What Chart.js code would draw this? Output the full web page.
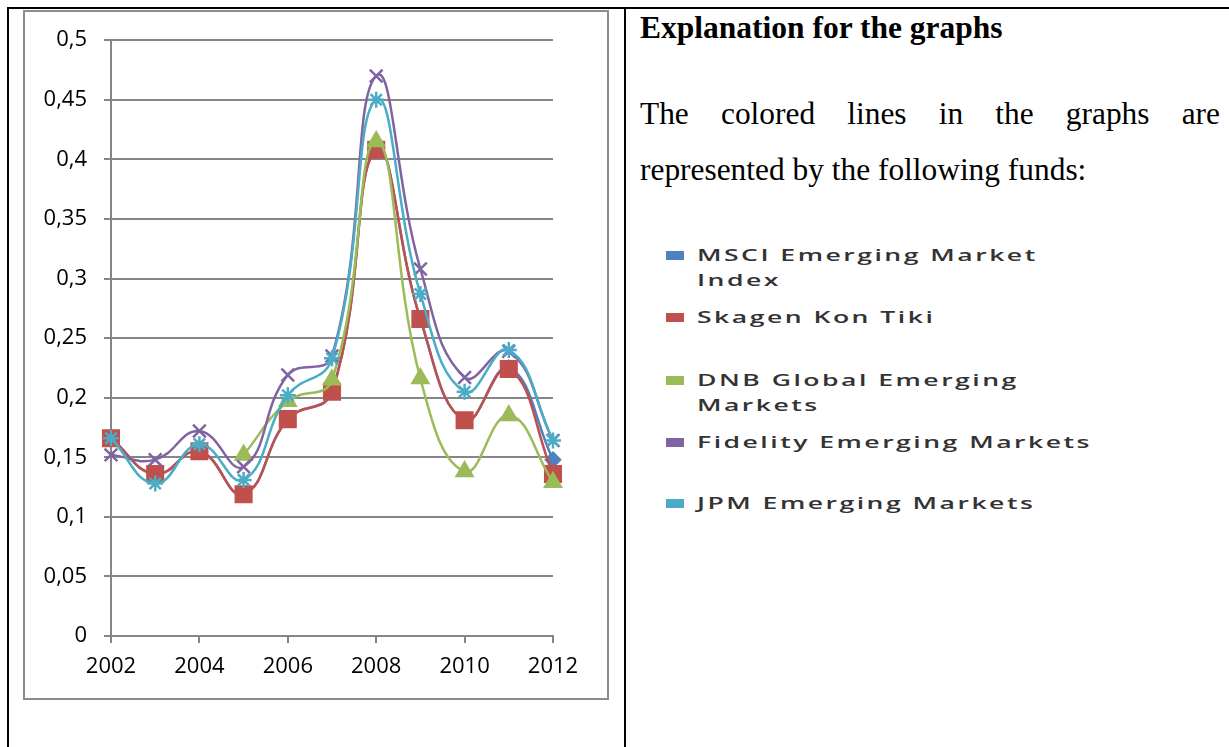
<!DOCTYPE html>
<html>
<head>
<meta charset="utf-8">
<script src="https://cdn.jsdelivr.net/npm/chart.js@4.4.1/dist/chart.umd.min.js"></script>
<style>
    body { margin: 0; background: #fff; width: 1229px; height: 747px; position: relative; overflow: hidden; }
    .linha { position: absolute; background: #000; }
    #moldura { position: absolute; left: 23px; top: 10px; width: 586px; height: 690px; box-sizing: border-box; border: 2px solid #8c8c8c; pointer-events: none; }
    #grafico { position: absolute; left: 23px; top: 10px; }
    .serif { position: absolute; font-family: "Liberation Serif", "Times New Roman", serif; color: #000; }
    #titulo { left: 640px; top: 10px; font-size: 31.5px; font-weight: bold; white-space: nowrap; }
    #linha1 { left: 640px; top: 96px; width: 580px; font-size: 31.4px; text-align: justify; text-align-last: justify; }
    #linha2 { left: 640px; top: 152px; font-size: 31.4px; white-space: nowrap; }
    .item { position: absolute; left: 666px; font-family: "Open Sans", sans-serif; font-weight: 600; font-size: 16px; line-height: 25px; color: #333; }
    .item .cor { position: absolute; left: 0; top: 8px; width: 18px; height: 9px; }
    .item .txt { position: absolute; left: 31px; top: 0; white-space: nowrap; transform: scaleX(1.66); transform-origin: left top; letter-spacing: 1.5px; }
</style>
</head>
<body>
<div class="linha" style="left:7px;top:7px;width:1222px;height:2px"></div>
<div class="linha" style="left:7px;top:7px;width:2px;height:740px"></div>
<div class="linha" style="left:624px;top:7px;width:2px;height:740px"></div>

<canvas id="grafico" width="586" height="690"></canvas>
<div id="moldura"></div>

<div class="serif" id="titulo">Explanation for the graphs</div>
<div class="serif" id="linha1">The colored lines in the graphs are</div>
<div class="serif" id="linha2">represented by the following funds:</div>
<div id="legenda"></div>

<script>
    // Anos e valores
    const anos = [2002, 2003, 2004, 2005, 2006, 2007, 2008, 2009, 2010, 2011, 2012];
    const fundos = ['MSCI Emerging Market Index', 'Skagen Kon Tiki', 'DNB Global Emerging Markets', 'Fidelity Emerging Markets', 'JPM Emerging Markets'];
    // o indice fica quase todo escondido atras da linha do Skagen
    const msci = [0.166, 0.136, 0.155, 0.119, 0.182, 0.205, 0.408, 0.266, 0.181, 0.225, 0.148];
    const skagen = [0.166, 0.136, 0.155, 0.119, 0.182, 0.205, 0.408, 0.266, 0.181, 0.224, 0.136];
    const dnb = [null, null, null, 0.152, 0.197, 0.215, 0.415, 0.216, 0.138, 0.185, 0.129];
    const fidelity = [0.152, 0.148, 0.172, 0.142, 0.219, 0.235, 0.470, 0.308, 0.217, 0.239, 0.164];
    const jpm = [0.166, 0.128, 0.161, 0.131, 0.202, 0.233, 0.450, 0.287, 0.205, 0.240, 0.164];
    const anosTicks = [2002, 2004, 2006, 2008, 2010, 2012];

    const series = [msci, skagen, dnb, fidelity, jpm];
    const cores = ['#4F81BD', '#C0504D', '#9BBB59', '#8064A2', '#4BACC6'];
    const marcadores = ['rectRot', 'rect', 'triangle', 'crossRot', 'star'];
    const raios = [7, 11, 9, 9, 8];

    // legenda em html (fica na outra celula da tabela)
    const posLegenda = [243, 305, 368, 430, 491];
    const legenda = document.getElementById('legenda');
    fundos.forEach((nome, i) => {
        const item = document.createElement('div');
        item.className = 'item';
        item.style.top = posLegenda[i] + 'px';
        let texto = nome;
        if (i === 0) texto = 'MSCI Emerging Market<br>Index';
        if (i === 2) texto = 'DNB Global Emerging<br>Markets';
        item.innerHTML = '<div class="cor" style="background:' + cores[i] + '"></div><div class="txt">' + texto + '</div>';
        legenda.appendChild(item);
    });

    const datasets = series.map((valores, i) => ({
        label: fundos[i],
        data: anos.map((a, j) => ({ x: a, y: valores[j] })).filter(p => p.y !== null),
        borderColor: cores[i],
        backgroundColor: cores[i],
        borderWidth: 2.5,
        tension: 0.45,
        clip: false,
        pointStyle: marcadores[i],
        pointRadius: raios[i],
        pointBorderWidth: 2.5,
        pointBackgroundColor: cores[i],
        pointBorderColor: cores[i],
        order: series.length - i
    }));

    const cinza = '#868686';

    new Chart(document.getElementById('grafico'), {
        type: 'line',
        data: { datasets: datasets },
        options: {
            responsive: false,
            animation: false,
            layout: { padding: { top: 30, right: 56, left: 0, bottom: 0 } },
            plugins: {
                legend: { display: false },
                tooltip: { enabled: false }
            },
            scales: {
                x: {
                    type: 'linear',
                    min: 2002,
                    max: 2012,
                    afterBuildTicks: scale => {
                        scale.ticks = anosTicks.map(v => ({ value: v }));
                    },
                    afterFit: scale => { scale.height = 64; },
                    grid: {
                        drawOnChartArea: false,
                        drawTicks: true,
                        tickLength: 7,
                        color: cinza,
                        lineWidth: 2
                    },
                    border: { color: cinza, width: 2 },
                    ticks: {
                        color: '#000',
                        padding: 11,
                        maxRotation: 0,
                        font: { family: 'Open Sans', size: 22 },
                        callback: v => String(v)
                    }
                },
                y: {
                    min: 0,
                    max: 0.5,
                    afterFit: scale => { scale.width = 88; },
                    grid: {
                        color: cinza,
                        lineWidth: 2,
                        tickLength: 7
                    },
                    border: { color: cinza, width: 2 },
                    ticks: {
                        stepSize: 0.05,
                        color: '#000',
                        padding: 17,
                        font: { family: 'Open Sans', size: 22 },
                        callback: v => String(Math.round(v * 100) / 100).replace('.', ',')
                    }
                }
            }
        }
    });
</script>
</body>
</html>
